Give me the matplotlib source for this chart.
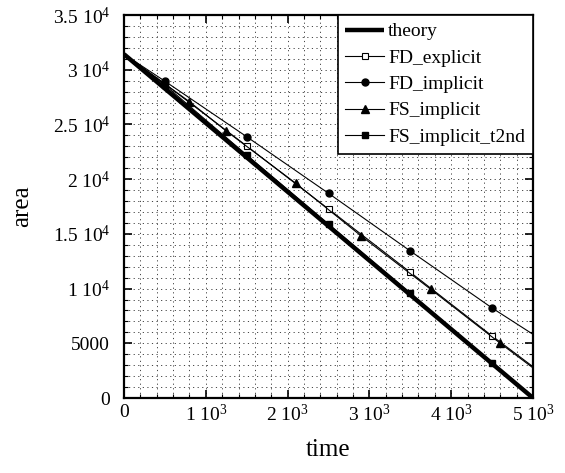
import matplotlib
matplotlib.use("Agg")
import matplotlib.pyplot as plt
from matplotlib.ticker import MultipleLocator, FixedLocator, FixedFormatter

plt.rcParams['font.family'] = ['Liberation Serif', 'DejaVu Serif']
plt.rcParams['mathtext.fontset'] = 'custom'
plt.rcParams['mathtext.rm'] = 'Liberation Serif'
plt.rcParams['mathtext.it'] = 'Liberation Serif'

# data
theory_t = [0, 5000]
theory_a = [31416, 0]

fde_t = [0, 500, 1500, 2500, 3500, 4500, 5000]
fde_a = [31416, 28700, 23028, 17271, 11487, 5666, 2860]

fdi_t = [0, 500, 1500, 2500, 3500, 4500, 5000]
fdi_a = [31416, 28950, 23878, 18706, 13433, 8224, 5820]

fsi_t = [0, 800, 1250, 2100, 2900, 3750, 4600, 5000]
fsi_a = [31416, 27077, 24400, 19620, 14804, 9933, 4999, 2750]

fs2_t = [0, 500, 1500, 2500, 3500, 4500, 5000]
fs2_a = [31416, 28600, 22206, 15873, 9568, 3226, 50]

xticks = [0, 1000, 2000, 3000, 4000, 5000]
xlabels = ['0', r'1 10$^{3}$', r'2 10$^{3}$', r'3 10$^{3}$', r'4 10$^{3}$', r'5 10$^{3}$']
yticks = [0, 5000, 10000, 15000, 20000, 25000, 30000, 35000]
ylabels = ['0', '5000', r'1 10$^{4}$', r'1.5 10$^{4}$', r'2 10$^{4}$', r'2.5 10$^{4}$', r'3 10$^{4}$', r'3.5 10$^{4}$']

fig = plt.figure(figsize=(5.65, 4.73), dpi=100)
ax = fig.add_axes([124/565, 1-398/473, (533-124)/565, (398-15)/473])

ax.plot(theory_t, theory_a, color='black', lw=3.2, label='theory', solid_capstyle='butt')
ax.plot(fde_t, fde_a, color='black', lw=0.8, marker='s', ms=5, mfc='white', mec='black', mew=0.8,
        markevery=list(range(1, len(fde_t)-1)), label='FD_explicit')
ax.plot(fdi_t, fdi_a, color='black', lw=0.8, marker='o', ms=5, mfc='black', mec='black',
        markevery=list(range(1, len(fdi_t)-1)), label='FD_implicit')
ax.plot(fsi_t, fsi_a, color='black', lw=0.8, marker='^', ms=5.5, mfc='black', mec='black',
        markevery=list(range(1, len(fsi_t)-1)), label='FS_implicit')
ax.plot(fs2_t, fs2_a, color='black', lw=0.8, marker='s', ms=5, mfc='black', mec='black',
        markevery=list(range(1, len(fs2_t)-1)), label='FS_implicit_t2nd')

ax.set_xlim(0, 5000)
ax.set_ylim(0, 35000)
ax.xaxis.set_major_locator(FixedLocator(xticks))
ax.xaxis.set_major_formatter(FixedFormatter(xlabels))
ax.yaxis.set_major_locator(FixedLocator(yticks))
ax.yaxis.set_major_formatter(FixedFormatter(ylabels))
ax.xaxis.set_minor_locator(MultipleLocator(200))
ax.yaxis.set_minor_locator(MultipleLocator(1000))

ax.grid(which='both', linestyle=(0, (1.2, 3.5)), color='#444444', lw=0.7)
ax.set_axisbelow(True)

ax.tick_params(which='major', direction='in', length=6, width=1.2, top=True, right=True, labelsize=14)
ax.tick_params(which='minor', direction='in', length=3, width=0.8, top=True, right=True)
ax.tick_params(axis='x', which='major', pad=4)
ax.tick_params(axis='y', which='major', pad=10)
for s in ax.spines.values():
    s.set_linewidth(1.6)

ax.set_xlabel('time', fontsize=18, labelpad=10)
ax.set_ylabel('area', fontsize=18, labelpad=14)

leg = ax.legend(loc='upper right', fontsize=14, frameon=True, fancybox=False,
                edgecolor='black', framealpha=1, borderaxespad=0, handlelength=2.0,
                handletextpad=0.2, labelspacing=0.45, borderpad=0.4)
leg.get_frame().set_linewidth(1.2)

fig.savefig('out.png', dpi=100)
